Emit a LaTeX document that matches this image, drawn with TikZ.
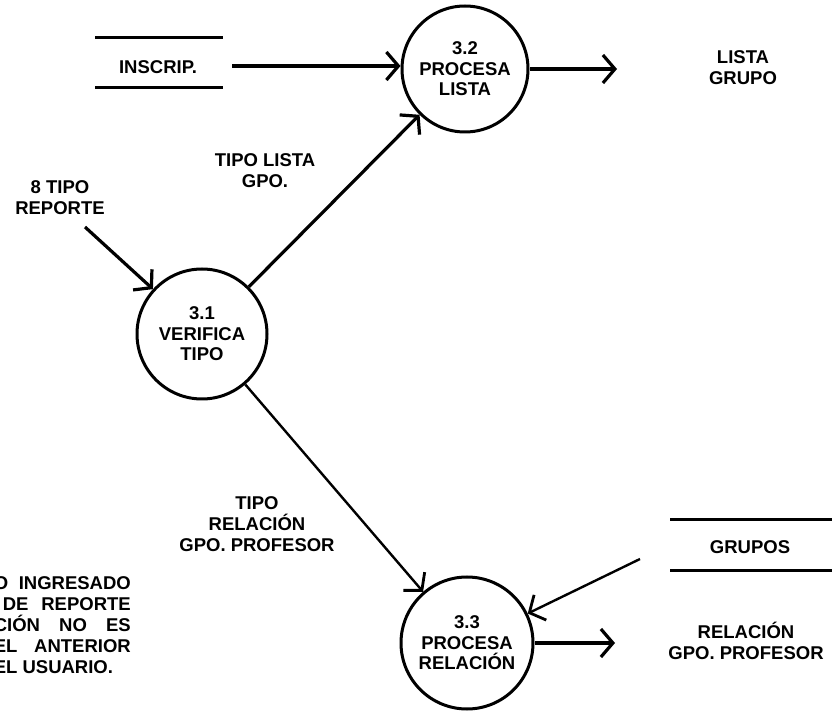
\documentclass[tikz,border=0pt]{standalone}
\usepackage{fontspec}
\setmainfont{Liberation Sans}
\usetikzlibrary{arrows.meta}
\tikzset{
  proc/.style={draw, circle, line width=3pt, align=center, font=\bfseries\fontsize{18.5}{20.5}\selectfont, inner sep=0pt},
  lbl/.style={align=center, font=\bfseries\fontsize{18.5}{21}\selectfont, inner sep=0pt},
  arr/.style={line width=3.2pt, -{Straight Barb[length=12pt,width=28pt,line width=3.2pt]}},
  arrthin/.style={line width=2.4pt, -{Straight Barb[length=12pt,width=28pt,line width=2.8pt]}},
  storeline/.style={line width=3pt},
}
\begin{document}
\begin{tikzpicture}[x=1pt,y=-1pt]
\useasboundingbox (0,0) rectangle (839,719);
% processes
\node[proc, minimum size=126pt] (c32) at (465,69) {3.2\\PROCESA\\LISTA};
\node[proc, minimum size=130pt] (c31) at (202,334) {3.1\\VERIFICA\\TIPO};
\node[proc, minimum size=132pt] (c33) at (467,643) {3.3\\PROCESA\\RELACIÓN};
% store INSCRIP
\node[lbl] (ins) at (158,67) {INSCRIP.};
\draw[storeline] (95,38) -- (223,38);
\draw[storeline] (95,88) -- (223,88);
\coordinate (insout) at (232,66);
\draw[arr] (insout) -- (c32.west |- insout);
% output LISTA GRUPO
\coordinate (lgin) at (617,69);
\draw[arr] (c32) -- (lgin);
\node[lbl] (lg) at (743,68) {LISTA\\GRUPO};
% 8 TIPO REPORTE
\node[lbl] (rep) at (60,198) {8 TIPO\\REPORTE};
\coordinate (repout) at (85,227);
\draw[arr] (repout) -- (c31);
% flows from 3.1
\draw[arr] (c31) -- (c32);
\node[lbl] (tl) at (265,171) {TIPO LISTA\\GPO.};
\draw[arrthin] (c31) -- (c33);
\node[lbl] (tr) at (257,524) {TIPO\\RELACIÓN\\GPO. PROFESOR};
% store GRUPOS
\node[lbl] (gru) at (750,547) {GRUPOS};
\draw[storeline] (670,520) -- (832,520);
\draw[storeline] (670,570) -- (832,570);
\coordinate (gruout) at (640,559);
\draw[arrthin] (gruout) -- (c33);
% output RELACION GPO PROFESOR
\coordinate (rgin) at (615,643);
\draw[arr] (c33) -- (rgin);
\node[lbl] (rg) at (746,641) {RELACIÓN\\GPO. PROFESOR};
% note text at left (cut off by the left edge, as in the reference)
\node[lbl, anchor=east, align=left, font=\bfseries\fontsize{18.5}{21}\selectfont] (note) at (131,625) {%
\makebox[137pt][s]{O INGRESADO}\\
\hspace*{9pt}\makebox[128pt][s]{DE REPORTE}\\
\makebox[137pt][s]{CIÓN NO ES}\\
\makebox[137pt][s]{EL ANTERIOR}\\
\makebox[137pt][l]{EL USUARIO.}};
\end{tikzpicture}
\end{document}
